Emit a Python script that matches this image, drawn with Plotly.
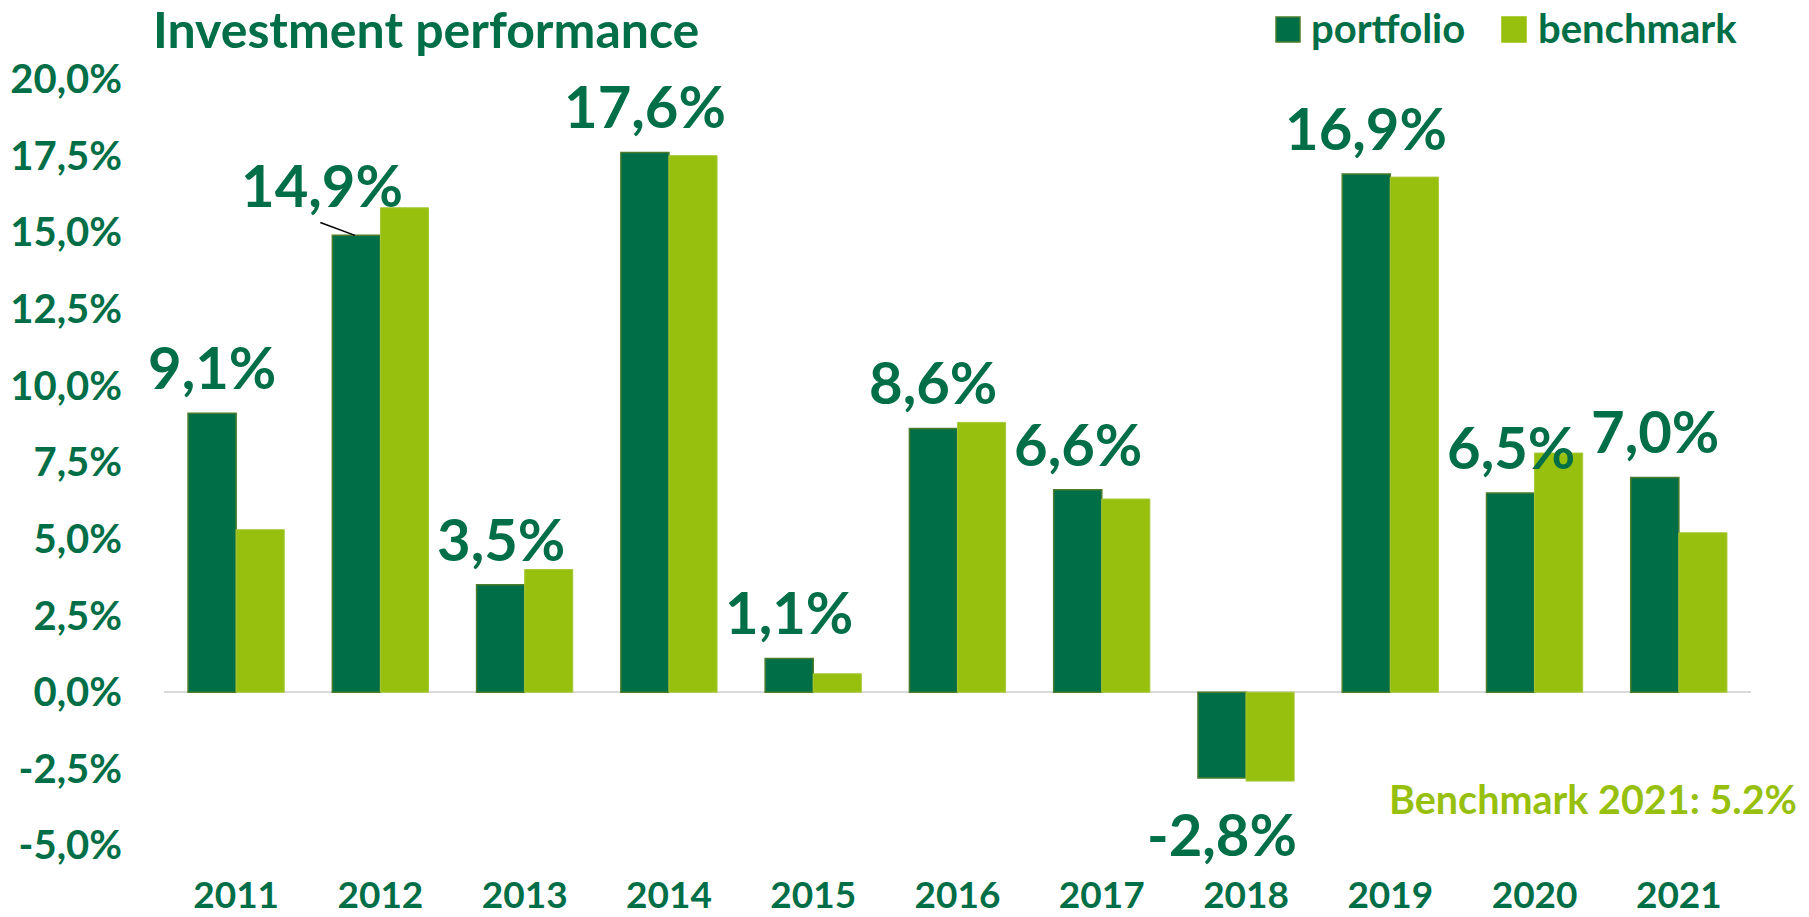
import plotly.graph_objects as go

years = ["2011", "2012", "2013", "2014", "2015", "2016", "2017", "2018", "2019", "2020", "2021"]
portfolio = [9.1, 14.9, 3.5, 17.6, 1.1, 8.6, 6.6, -2.8, 16.9, 6.5, 7.0]
benchmark = [5.3, 15.8, 4.0, 17.5, 0.6, 8.8, 6.3, -2.9, 16.8, 7.8, 5.2]
portfolio_labels = ["9,1%", "14,9%", "3,5%", "17,6%", "1,1%", "8,6%", "6,6%", "-2,8%", "16,9%", "6,5%", "7,0%"]
y_tick_vals = [-5, -2.5, 0, 2.5, 5, 7.5, 10, 12.5, 15, 17.5, 20]
y_tick_text = ["-5,0%", "-2,5%", "0,0%", "2,5%", "5,0%", "7,5%", "10,0%", "12,5%", "15,0%", "17,5%", "20,0%"]
series_names = ["portfolio", "benchmark"]
title_text = "Investment performance"
note_text = "Benchmark 2021: 5.2%"

DARK = "#006E46"
LIGHT = "#97BF0D"
FONT = "Lato"

W, H = 1809, 917
ML, MR, MT, MB = 164, 58, 79, 47
PW = W - ML - MR
PH = H - MT - MB


def px_x(px):
    return (px - ML) / PW


def px_y(py):
    return 1 - (py - MT) / PH


fig = go.Figure()
fig.add_trace(go.Bar(x=years, y=portfolio, name=series_names[0],
                     marker=dict(color=DARK, line=dict(color="#4A7C2C", width=1.5)), showlegend=False))
fig.add_trace(go.Bar(x=years, y=benchmark, name=series_names[1],
                     marker=dict(color=LIGHT, line=dict(color="#A6C93A", width=1)), showlegend=False))

annotations = []
bar_off = -1 / 6  # portfolio bar centre relative to category centre (category units)
for i, (v, lab) in enumerate(zip(portfolio, portfolio_labels)):
    xv = i + bar_off
    yv = v + 1.52 if v >= 0 else v - 1.8
    if i == 1:
        yv = v + 1.67
        xv = i + bar_off - 0.24
    annotations.append(dict(x=xv, y=yv, xref="x", yref="y", text=lab, showarrow=False,
                            font=dict(family=FONT, size=58, color=DARK, weight="bold"),
                            xanchor="center", yanchor="middle"))

shapes = [dict(type="line", xref="x", yref="y",
               x0=1 + bar_off - 0.25, y0=portfolio[1] + 0.42, x1=1 + bar_off - 0.01, y1=portfolio[1],
               line=dict(color="black", width=1.5))]

annotations.append(dict(x=px_x(151), y=px_y(29), xref="paper", yref="paper", text=title_text, showarrow=False,
                        xanchor="left", yanchor="middle", font=dict(family=FONT, size=50, color=DARK, weight="bold")))
annotations.append(dict(x=px_x(1799), y=px_y(798), xref="paper", yref="paper", text=note_text, showarrow=False,
                        xanchor="right", yanchor="middle", font=dict(family=FONT, size=39.5, color=LIGHT, weight="bold")))

leg = [(series_names[0], DARK, "#4A7C2C", 1276, 1309), (series_names[1], LIGHT, LIGHT, 1502, 1536)]
for name, col, lcol, sx, tx in leg:
    shapes.append(dict(type="rect", xref="paper", yref="paper", x0=px_x(sx), x1=px_x(sx + 24), y0=px_y(42), y1=px_y(17),
                       fillcolor=col, line=dict(color=lcol, width=1.5)))
    annotations.append(dict(x=px_x(tx), y=px_y(28), xref="paper", yref="paper", text=name, showarrow=False,
                            xanchor="left", yanchor="middle", font=dict(family=FONT, size=40, color=DARK, weight="bold")))

fig.update_layout(
    width=W, height=H, autosize=False,
    margin=dict(l=ML, r=MR, t=MT, b=MB),
    plot_bgcolor="white", paper_bgcolor="white",
    barmode="group", bargap=1 / 3, bargroupgap=0,
    showlegend=False,
    annotations=annotations, shapes=shapes,
    xaxis=dict(type="category", categoryorder="array", categoryarray=years, range=[-0.5, len(years) - 0.5],
               showgrid=False, showline=False, ticks="", automargin=False,
               tickfont=dict(family=FONT, size=37, color=DARK, weight="bold")),
    yaxis=dict(range=[-5.8, 20], tickvals=y_tick_vals, ticktext=y_tick_text, showgrid=False, showline=False, ticks="",
               zeroline=True, zerolinecolor="#D9D9D9", zerolinewidth=2, ticklabelstandoff=41, automargin=False,
               tickfont=dict(family=FONT, size=40, color=DARK, weight="bold")),
)

fig.write_html("out.html", config={"displayModeBar": False},
               post_script="document.body.style.margin='0';document.body.style.overflow='hidden';")
